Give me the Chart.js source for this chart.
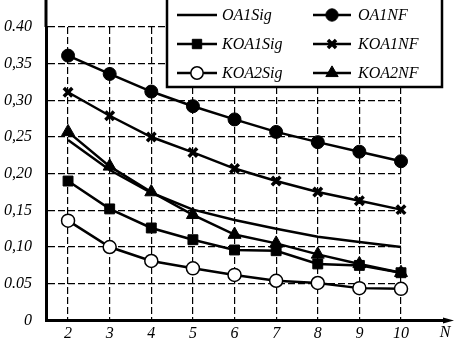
<!DOCTYPE html>
<html>
<head>
<meta charset="utf-8">
<script src="https://cdn.jsdelivr.net/npm/chart.js@4/dist/chart.umd.min.js"></script>
<style>
html,body{margin:0;padding:0;background:#fff;}
#wrap{position:relative;width:455px;height:344px;}
</style>
</head>
<body>
<div id="wrap"><canvas id="c" width="455" height="344"></canvas></div>
<script>
const nValues = [2, 3, 4, 5, 6, 7, 8, 9, 10];
const yTickValues = [0, 0.05, 0.10, 0.15, 0.20, 0.25, 0.30, 0.35, 0.40];
const yTickLabels = ["0", "0.05", "0,10", "0,15", "0,20", "0,25", "0,30", "0,35", "0.40"];
const xAxisTitle = "N";

const OA1Sig  = [0.246, 0.205, 0.174, 0.151, 0.137, 0.125, 0.114, 0.107, 0.100];
const OA1NF   = [0.361, 0.336, 0.312, 0.292, 0.274, 0.257, 0.243, 0.230, 0.217];
const KOA1Sig = [0.190, 0.152, 0.126, 0.110, 0.096, 0.095, 0.077, 0.075, 0.065];
const KOA1NF  = [0.311, 0.279, 0.250, 0.229, 0.207, 0.190, 0.175, 0.163, 0.151];
const KOA2Sig = [0.136, 0.100, 0.081, 0.071, 0.062, 0.054, 0.051, 0.044, 0.043];
const KOA2NF  = [0.257, 0.210, 0.175, 0.144, 0.117, 0.105, 0.090, 0.077, 0.065];

const FONT = "'Liberation Serif', 'DejaVu Serif', serif";

function mk(label, data, style, radius, fill, bw) {
  return {
    label: label,
    data: nValues.map((n, i) => ({x: n, y: data[i]})),
    borderColor: '#000',
    borderWidth: 2.5,
    pointStyle: style,
    pointRadius: radius,
    pointBackgroundColor: fill,
    pointBorderColor: '#000',
    pointBorderWidth: bw,
    tension: 0,
    fill: false,
    clip: false
  };
}

const datasets = [
  mk('OA1Sig', OA1Sig, false, 0, '#000', 0),
  mk('OA1NF', OA1NF, 'circle', 6.5, '#000', 1),
  mk('KOA1Sig', KOA1Sig, 'rect', 7, '#000', 1),
  mk('KOA1NF', KOA1NF, 'crossRot', 6, '#000', 3.5),
  mk('KOA2Sig', KOA2Sig, 'circle', 6.5, '#fff', 1.5),
  mk('KOA2NF', KOA2NF, 'triangle', 7.5, '#000', 1)
];

const extras = {
  id: 'extras',
  afterDraw(chart) {
    const ctx = chart.ctx;
    const a = chart.chartArea;
    ctx.save();
    // left axis extension to top
    ctx.strokeStyle = '#000';
    ctx.lineWidth = 3;
    ctx.beginPath();
    ctx.moveTo(a.left, a.top);
    ctx.lineTo(a.left, 0);
    ctx.stroke();
    // x axis arrow extension
    ctx.beginPath();
    ctx.moveTo(a.right, a.bottom);
    ctx.lineTo(446, a.bottom);
    ctx.stroke();
    ctx.fillStyle = '#000';
    ctx.beginPath();
    ctx.moveTo(454, a.bottom);
    ctx.lineTo(443, a.bottom - 3);
    ctx.lineTo(443, a.bottom + 3);
    ctx.closePath();
    ctx.fill();
    // axis title N
    ctx.font = 'italic 16px ' + FONT;
    ctx.textAlign = 'center';
    ctx.textBaseline = 'middle';
    ctx.fillText(xAxisTitle, 445, 333);

    // legend box
    ctx.fillStyle = '#fff';
    ctx.fillRect(167, -2, 275, 89);
    ctx.lineWidth = 2.5;
    ctx.strokeStyle = '#000';
    ctx.strokeRect(167, -2, 275, 89);
    const order = [0, 1, 2, 3, 4, 5];
    const rows = [15, 44, 73];
    const cols = [{x0: 177, x1: 217, tx: 222}, {x0: 313, x1: 351, tx: 358}];
    order.forEach((di, k) => {
      const ds = chart.data.datasets[di];
      const col = cols[k % 2];
      const y = rows[Math.floor(k / 2)];
      ctx.lineWidth = 2.5;
      ctx.strokeStyle = '#000';
      ctx.beginPath();
      ctx.moveTo(col.x0, y);
      ctx.lineTo(col.x1, y);
      ctx.stroke();
      if (ds.pointStyle) {
        ctx.fillStyle = ds.pointBackgroundColor;
        ctx.strokeStyle = '#000';
        ctx.lineWidth = ds.pointBorderWidth;
        Chart.helpers.drawPoint(ctx, {pointStyle: ds.pointStyle, radius: ds.pointRadius * 0.95, borderWidth: ds.pointBorderWidth, rotation: 0}, (col.x0 + col.x1) / 2, y);
      }
      ctx.fillStyle = '#000';
      ctx.font = 'italic 16px ' + FONT;
      ctx.textAlign = 'left';
      ctx.textBaseline = 'middle';
      ctx.fillText(ds.label, col.tx, y + 1);
    });
    ctx.restore();
  }
};

new Chart(document.getElementById('c'), {
  type: 'line',
  data: { datasets: datasets },
  options: {
    responsive: false,
    animation: false,
    devicePixelRatio: 1,
    layout: { padding: { top: 27, right: 54, left: 0, bottom: 0 } },
    plugins: { legend: { display: false }, tooltip: { enabled: false } },
    scales: {
      x: {
        type: 'linear',
        min: 1.47,
        max: 10,
        afterBuildTicks: s => { s.ticks = nValues.map(v => ({value: v})); },
        afterFit: s => { s.height = 23; },
        grid: { color: '#000', lineWidth: 1.2, drawTicks: false },
        border: { display: true, color: '#000', width: 3, dash: [7, 3] },
        ticks: {
          color: '#000', padding: 4, maxRotation: 0, autoSkip: false,
          font: { family: FONT, size: 16, style: 'italic' },
          callback: v => String(v)
        }
      },
      y: {
        type: 'linear',
        min: 0,
        max: 0.40,
        afterBuildTicks: s => { s.ticks = yTickValues.map(v => ({value: v})); },
        afterFit: s => { s.width = 46; },
        grid: { color: '#000', lineWidth: 1.2, drawTicks: false },
        border: { display: true, color: '#000', width: 3, dash: [7, 3] },
        ticks: {
          color: '#000', padding: 14, autoSkip: false,
          font: { family: FONT, size: 16, style: 'italic' },
          callback: (v, i) => yTickLabels[i]
        }
      }
    }
  },
  plugins: [extras]
});
</script>
</body>
</html>
